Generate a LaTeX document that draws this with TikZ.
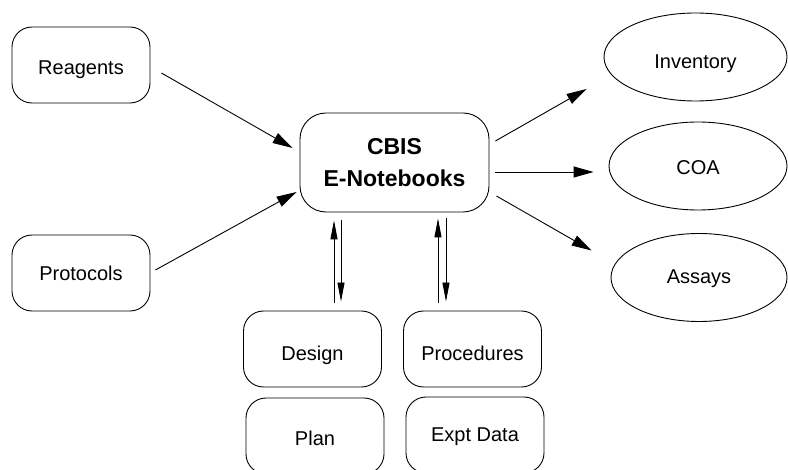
\documentclass[tikz,border=0pt]{standalone}
\usepackage{fontspec}
\setmainfont{Liberation Sans}
\usetikzlibrary{shapes.geometric,arrows.meta}

\tikzset{
  box/.style={draw, rounded corners=20pt, minimum width=138pt, minimum height=76pt,
    inner sep=0pt, line width=0.9pt, font=\fontsize{20}{24}\selectfont,
    text depth=0pt, text height=14.3pt},
  hub/.style={draw, rounded corners=26pt, minimum width=189pt, minimum height=99pt,
    inner sep=0pt, line width=0.9pt, align=center,
    font=\fontsize{23}{32}\selectfont\bfseries},
  oval/.style={draw, ellipse, minimum height=88pt, inner sep=0pt, line width=0.9pt,
    font=\fontsize{20}{24}\selectfont, text depth=0pt, text height=14.3pt},
  link/.style={-{Triangle[length=20pt,width=11pt]}, line width=0.9pt},
  vlink/.style={-{Triangle[length=19pt,width=7pt]}, line width=0.9pt},
}

\begin{document}
\begin{tikzpicture}[x=1pt,y=-1pt]
  \useasboundingbox (0,0) rectangle (788,470);

  % sources
  \node[box, text height=18.3pt] (reag) at (81,65) {Reagents};
  \node[box] (prot) at (81,273) {Protocols};

  % central notebook system
  \node[hub] (cbis) at (394.5,162.5) {CBIS\\E-Notebooks};

  % outputs
  \node[oval, minimum width=183pt, text height=23.3pt] (inv) at (695.5,57) {Inventory};
  \node[oval, minimum width=178pt, text height=16.3pt] (coa) at (698,166) {COA};
  \node[oval, minimum width=176pt, text height=11.3pt] (assay) at (699,277.5) {Assays};

  % experiment records
  \node[box, text height=22.3pt] (design) at (312.5,349) {Design};
  \node[box, text height=22.3pt] (proc) at (472.5,349) {Procedures};
  \node[box, text height=18.3pt] (plan) at (315,436) {Plan};
  \node[box, text height=12.3pt] (expt) at (475,435) {Expt Data};

  % inputs into the notebooks
  \draw[link] ([shift={(11,8)}]reag.east) -- ([shift={(-7,-14.5)}]cbis.west);
  \draw[link] ([shift={(5,-3)}]prot.east) -- ([shift={(-3,29.5)}]cbis.west);

  % outputs from the notebooks
  \draw[link] ([shift={(6,-21.5)}]cbis.east) -- ([shift={(-17,32)}]inv.west);
  \draw[link] ([shift={(6,9.5)}]cbis.east) -- ([shift={(-15,6)}]coa.west);
  \draw[link] ([shift={(7,33.5)}]cbis.east) -- ([shift={(-19,-27)}]assay.west);

  % two-way exchange with design and procedures
  \draw[vlink] ([shift={(21.5,-8)}]design.north) -- ([shift={(-60.5,8)}]cbis.south);
  \draw[vlink] ([shift={(-53.5,8)}]cbis.south) -- ([shift={(28.5,-9)}]design.north);
  \draw[vlink] ([shift={(-34.5,-8)}]proc.north) -- ([shift={(43.5,6)}]cbis.south);
  \draw[vlink] ([shift={(51.5,6)}]cbis.south) -- ([shift={(-26.5,-9)}]proc.north);
\end{tikzpicture}
\end{document}
